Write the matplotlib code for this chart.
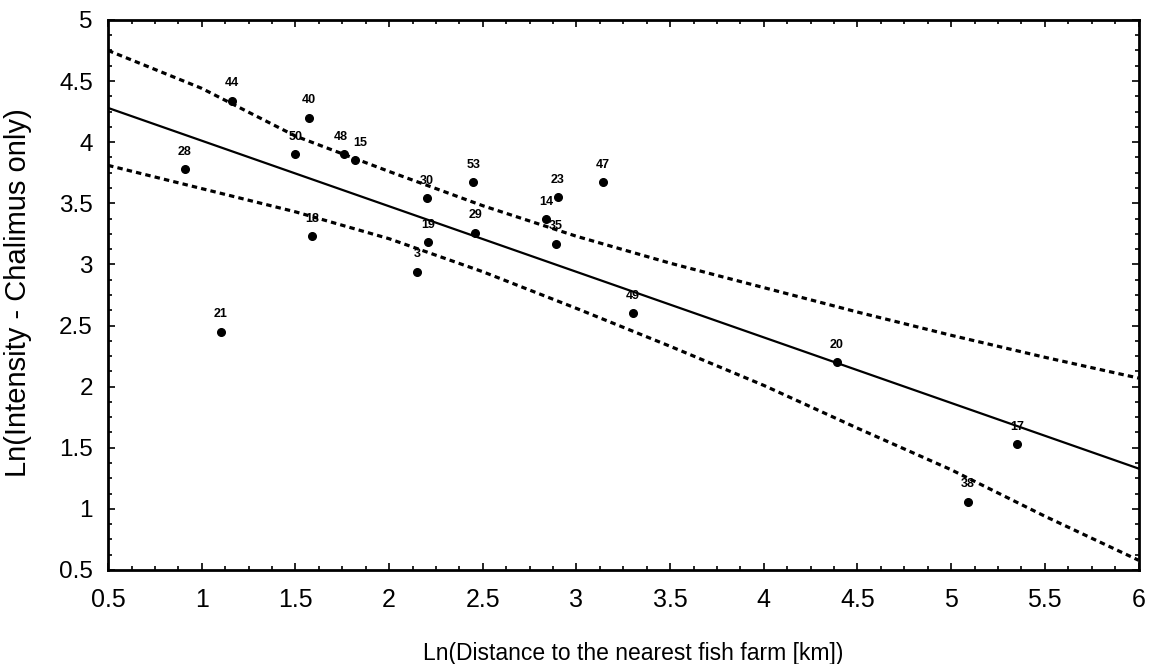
import matplotlib.pyplot as plt
from matplotlib.ticker import MultipleLocator

plt.rcParams['font.family'] = ['Liberation Sans', 'DejaVu Sans']

# sampled stations: ln(distance) vs ln(intensity), with station ids
station = ['44', '40', '50', '48', '15', '28', '30', '53', '47', '23', '14',
           '35', '29', '19', '3', '49', '21', '18', '20', '17', '38']
ln_dist = [1.16, 1.57, 1.50, 1.76, 1.82, 0.91, 2.20, 2.45, 3.14, 2.90, 2.84,
           2.89, 2.46, 2.21, 2.15, 3.30, 1.10, 1.59, 4.39, 5.35, 5.09]
ln_int = [4.34, 4.20, 3.90, 3.90, 3.85, 3.78, 3.54, 3.67, 3.67, 3.55, 3.37,
          3.17, 3.26, 3.18, 2.94, 2.60, 2.45, 3.23, 2.20, 1.53, 1.06]

# fitted line and confidence band
fit_x = [0.5, 6.0]
fit_y = [4.28, 1.33]
ci_x = [0.5, 1.0, 1.5, 2.0, 2.5, 3.0, 3.5, 4.0, 4.5, 5.0, 5.5, 6.0]
ci_hi = [4.75, 4.44, 4.05, 3.76, 3.48, 3.23, 3.01, 2.81, 2.61, 2.42, 2.24, 2.07]
ci_lo = [3.81, 3.62, 3.43, 3.21, 2.94, 2.64, 2.33, 2.01, 1.66, 1.32, 0.94, 0.58]

fig = plt.figure(figsize=(11.5, 6.64), dpi=100)
ax = fig.add_axes([0.094, 0.1416, 0.896, 0.8284])

ax.plot(fit_x, fit_y, color='black', lw=1.6)
ax.plot(ci_x, ci_hi, color='black', lw=2.3, linestyle=(0, (1.7, 1.3)))
ax.plot(ci_x, ci_lo, color='black', lw=2.3, linestyle=(0, (1.7, 1.3)))
ax.plot(ln_dist, ln_int, 'o', color='black', markersize=5.5)

# labels that crowd each other get nudged sideways a little
nudge = {'48': -2.5, '15': 3.5}
for lab, x, y in zip(station, ln_dist, ln_int):
    ax.annotate(lab, (x, y), xytext=(nudge.get(lab, 0), 12.5),
                textcoords='offset points',
                ha='center', va='center', fontsize=9, fontweight='bold')

ax.set_xlim(0.5, 6)
ax.set_ylim(0.5, 5)
ax.xaxis.set_minor_locator(MultipleLocator(0.125))
ax.yaxis.set_minor_locator(MultipleLocator(0.125))
ax.set_xticks([0.5, 1, 1.5, 2, 2.5, 3, 3.5, 4, 4.5, 5, 5.5, 6])
ax.set_xticklabels(['0.5', '1', '1.5', '2', '2.5', '3', '3.5', '4', '4.5', '5', '5.5', '6'])
ax.set_yticks([0.5, 1, 1.5, 2, 2.5, 3, 3.5, 4, 4.5, 5])
ax.set_yticklabels(['0.5', '1', '1.5', '2', '2.5', '3', '3.5', '4', '4.5', '5'])

ax.tick_params(which='both', direction='in', top=True, right=True, width=1.2)
ax.tick_params(which='major', length=5)
ax.tick_params(which='minor', length=3)
ax.tick_params(axis='x', which='major', labelsize=18, pad=13)
ax.tick_params(axis='y', which='major', labelsize=17.5, pad=11)
for sp in ax.spines.values():
    sp.set_linewidth(2)

ax.set_xlabel('Ln(Distance to the nearest fish farm [km])', fontsize=16.5)
ax.set_ylabel('Ln(Intensity - Chalimus only)', fontsize=21)
ax.xaxis.set_label_coords(0.51, -0.131)
ax.yaxis.set_label_coords(-0.074, 0.505)

fig.savefig('out.png', dpi=100)
